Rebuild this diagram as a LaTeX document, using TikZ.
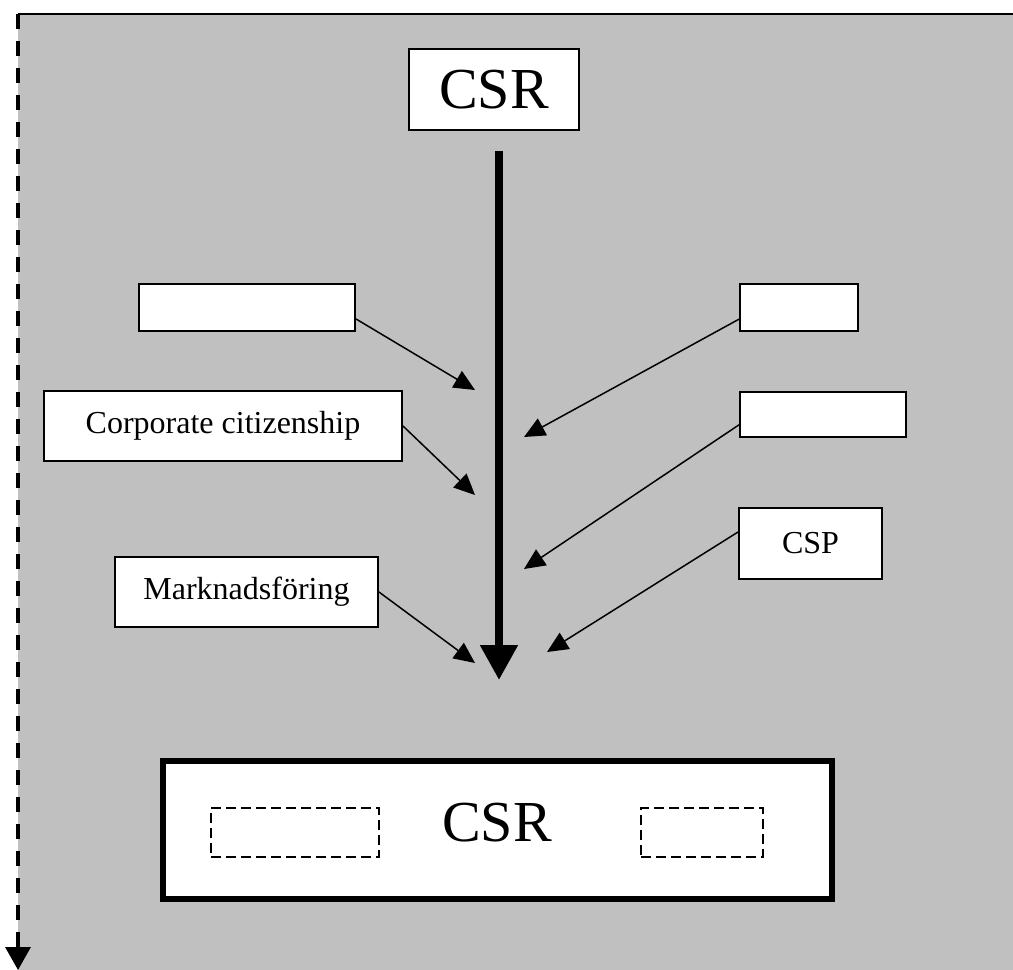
\documentclass[tikz,border=0pt]{standalone}
\usepackage{fontspec}
\setmainfont{Liberation Serif}
\usepackage{xcolor}
\usetikzlibrary{arrows.meta, positioning}
\definecolor{panelgray}{RGB}{192,192,192}

\begin{document}
\begin{tikzpicture}[x=1pt, y=-1pt,
    box/.style={draw, fill=white, line width=2pt, inner sep=0pt, font=\fontsize{32}{38}\selectfont},
    bigbox/.style={draw, fill=white, line width=6pt, inner sep=0pt},
    ghost/.style={draw, dash pattern=on 10pt off 5pt, line width=1.5pt, inner sep=0pt},
    feed/.style={-{Triangle[length=21pt, width=19pt]}, line width=1.5pt}]
    \useasboundingbox (0,0) rectangle (1013,970);
    % Frame
    \coordinate (frametop) at (18,14);
    \coordinate (frameright) at (1013,14);
    \coordinate (framebot) at (18,970);
    \fill[panelgray] (frametop) rectangle (1013,970);
    \draw[line width=2pt] (frametop) -- (frameright);
    \draw[line width=3.5pt, dash pattern=on 15pt off 12pt, -{Triangle[length=23pt, width=25pt]}] (frametop) -- (framebot);
    % Nodes
    \node (topcsr) [box, minimum width=170pt, minimum height=81pt, font=\fontsize{58}{66}\selectfont] at (494,89.5) {CSR};
    \node (leftone) [box, minimum width=216pt, minimum height=47pt] at (247,307.5) {};
    \node (corp) [box, minimum width=358pt, minimum height=70pt] at (223,426) {Corporate citizenship};
    \node (mark) [box, minimum width=263pt, minimum height=70pt] at (246.5,592) {Marknadsföring};
    \node (rightone) [box, minimum width=118pt, minimum height=47pt] at (799,307.5) {};
    \node (righttwo) [box, minimum width=166pt, minimum height=45pt] at (823,414.5) {};
    \node (csp) [box, minimum width=143pt, minimum height=71pt] at (810.5,543.5) {CSP};
    \node (result) [bigbox, minimum width=669pt, minimum height=138pt] at (497.5,830) {};
    \node (ghostl) [ghost, minimum width=168pt, minimum height=49pt] at (295,832.5) {};
    \node (ghostr) [ghost, minimum width=122pt, minimum height=49pt] at (702,832.5) {};
    \node (outcsr) [font=\fontsize{58}{66}\selectfont, inner sep=0pt] at (497,823) {CSR};
    % Arrow ends
    \coordinate (flowend) at (499,680);
    \coordinate (tipa) at (475,390);
    \coordinate (tipb) at (475,495);
    \coordinate (tipc) at (475,663);
    \coordinate (tipd) at (524,437);
    \coordinate (tipe) at (524,569);
    \coordinate (tipf) at (547,652);
    % Arrows
    \draw[line width=8pt, -{Triangle[length=35pt, width=36pt]}] ([xshift=5pt, yshift=-20pt]topcsr.south) -- (flowend);
    \draw[feed] (leftone.-6) -- (tipa);
    \draw[feed] (corp.east) -- (tipb);
    \draw[feed] (mark.east) -- (tipc);
    \draw[feed] (rightone.-169) -- (tipd);
    \draw[feed] (righttwo.-173) -- (tipe);
    \draw[feed] (csp.171) -- (tipf);
\end{tikzpicture}
\end{document}
